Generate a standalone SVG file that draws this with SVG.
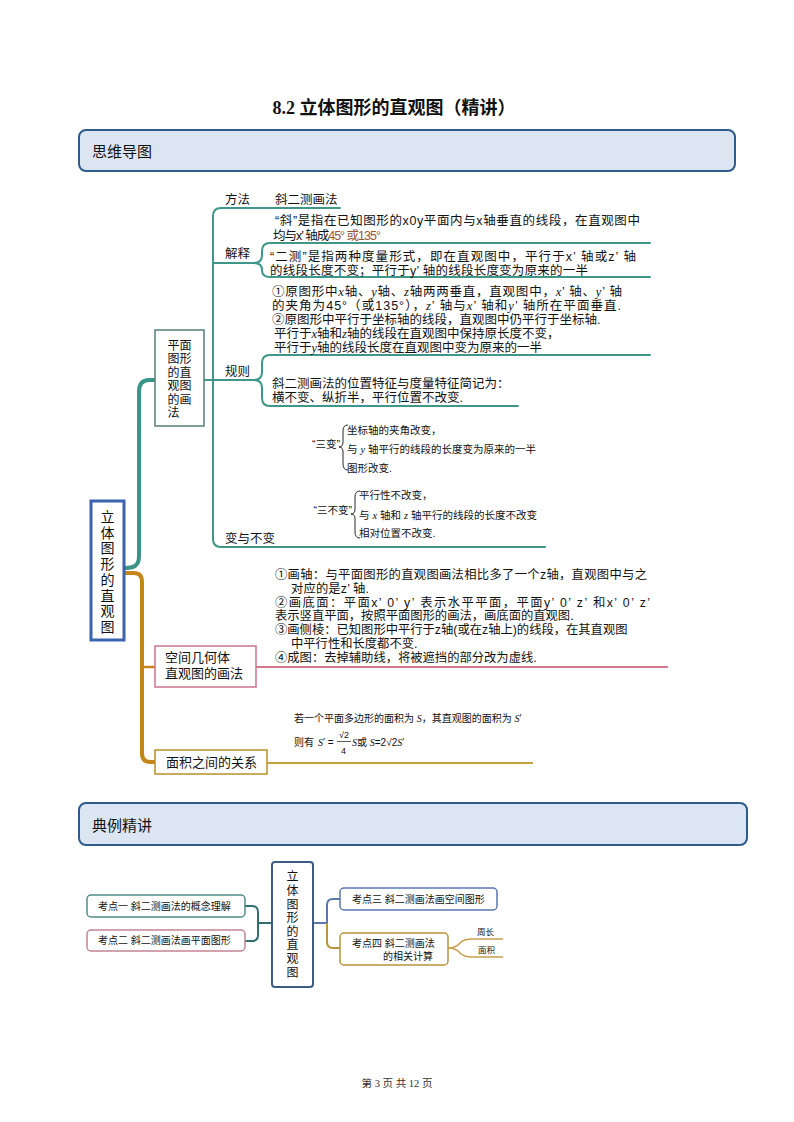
<svg xmlns="http://www.w3.org/2000/svg" width="794" height="1122" viewBox="0 0 794 1122">
<style>
.cn{font-family:"Liberation Sans","Noto Sans CJK SC",sans-serif;fill:#111}
.m{font-size:12.5px}
.m2{font-size:12.3px}
.sm{font-size:10.5px}
.xs{font-size:10px}
.it{font-family:"Liberation Serif",serif;font-style:italic}
.hdr{fill:#dce6f2;stroke:#2e5b8a;stroke-width:2}
.tl{fill:none;stroke:#3f978b;stroke-width:2;stroke-linecap:round}
.br{fill:none;stroke:#111;stroke-width:0.9}
.box{fill:#fff}
</style>
<rect width="794" height="1122" fill="#fff"/>
<text x="394" y="114" text-anchor="middle" font-family="'Liberation Serif','Noto Sans CJK SC',serif" font-weight="bold" font-size="18" fill="#111">8.2 立体图形的直观图（精讲）</text>

<g id="header1">
<rect x="79" y="130" width="656" height="41" rx="7" class="hdr"/>
<text x="92" y="157" class="cn" font-size="15">思维导图</text>
</g>

<g id="connectors">
<path d="M124,568 C134,568 139,566 139,556 L139,392 Q139,380 149,380 L155,380" fill="none" stroke="#3a9488" stroke-width="4"/>
<path d="M124,573 L134,573 Q142,573 142,582 L142,753 Q142,762 150,762 L155,762" fill="none" stroke="#c4861a" stroke-width="4"/>
<path d="M142,667 L155,667" fill="none" stroke="#c4861a" stroke-width="2.5"/>
<path d="M204,380 L213,380" class="tl"/>
<path d="M340,208 L221,208 Q213,208 213,216 L213,539 Q213,547 221,547 L545,547" class="tl"/>
<path d="M213,263 L254,263" class="tl"/>
<path d="M254,263 Q262,263 262,255 L262,251 Q262,243 270,243 L650,243" class="tl"/>
<path d="M254,263 Q262,263 262,270 Q262,277 270,277 L650,277" class="tl"/>
<path d="M213,380 L254,380" class="tl"/>
<path d="M254,380 Q262,380 262,372 L262,363 Q262,355 270,355 L650,355" class="tl"/>
<path d="M254,380 Q262,380 262,388 L262,398 Q262,406 270,406 L518,406" class="tl"/>
<path d="M348,425 Q343,425 343,431 L343,442 Q343,447 339,447 Q343,447 343,452 L343,464 Q343,470 348,470" class="br"/>
<path d="M360,491 Q355,491 355,497 L355,509 Q355,514 351,514 Q355,514 355,519 L355,532 Q355,538 360,538" class="br"/>
<path d="M256,667 L668,667" fill="none" stroke="#c8486a" stroke-width="1.5"/>
<path d="M267,763 L533,763" fill="none" stroke="#c8a040" stroke-width="1.8"/>
<path d="M245,906 L252,906 Q258,906 258,912 L258,935 Q258,941 252,941 L245,941 M258,923 L272,923" fill="none" stroke="#2f6f70" stroke-width="2"/>
<path d="M313,923 L327,923 L327,905 Q327,899 333,899 L340,899" fill="none" stroke="#5a78a8" stroke-width="2"/>
<path d="M327,923 L327,942 Q327,948 333,948 L340,948" fill="none" stroke="#b8943a" stroke-width="2"/>
<path d="M448,948 Q456,948 460,943 Q464,939 472,939 L503,939 M448,948 Q456,948 460,953 Q464,957 472,957 L503,957" fill="none" stroke="#c8a050" stroke-width="1.5"/>
</g>

<g id="root">
<rect x="91" y="501" width="33" height="139" class="box" stroke="#3b63b0" stroke-width="3"/>
<text x="107.5" y="522" class="cn" font-size="14" text-anchor="middle">立</text>
<text x="107.5" y="537.7" class="cn" font-size="14" text-anchor="middle">体</text>
<text x="107.5" y="553.4" class="cn" font-size="14" text-anchor="middle">图</text>
<text x="107.5" y="569.1" class="cn" font-size="14" text-anchor="middle">形</text>
<text x="107.5" y="584.8" class="cn" font-size="14" text-anchor="middle">的</text>
<text x="107.5" y="600.5" class="cn" font-size="14" text-anchor="middle">直</text>
<text x="107.5" y="616.2" class="cn" font-size="14" text-anchor="middle">观</text>
<text x="107.5" y="631.9" class="cn" font-size="14" text-anchor="middle">图</text>
</g>

<g id="plane">
<rect x="155" y="330" width="49" height="96" class="box" stroke="#5a7f7a" stroke-width="1.5"/>
<text x="179.5" y="349.5" class="cn" font-size="12" text-anchor="middle">平面</text>
<text x="179.5" y="363" class="cn" font-size="12" text-anchor="middle">图形</text>
<text x="179.5" y="376.5" class="cn" font-size="12" text-anchor="middle">的直</text>
<text x="179.5" y="390" class="cn" font-size="12" text-anchor="middle">观图</text>
<text x="179.5" y="403.5" class="cn" font-size="12" text-anchor="middle">的画</text>
<text x="173.5" y="417" class="cn" font-size="12" text-anchor="middle">法</text>
</g>

<g id="method">
<text x="225" y="204" class="cn m">方法</text>
<text x="275" y="204" class="cn m">斜二测画法</text>
</g>

<g id="explain">
<text x="225" y="258" class="cn m">解释</text>
<text x="275" y="225" class="cn m" textLength="365" lengthAdjust="spacing">“斜”是指在已知图形的x0y平面内与x轴垂直的线段，在直观图中</text>
<text x="273" y="240" class="cn m" textLength="108" lengthAdjust="spacing">均与x’ 轴成<tspan fill="#a0522d">45° 或135°</tspan></text>
<text x="270" y="261" class="cn m" textLength="366" lengthAdjust="spacing">“二测”是指两种度量形式，即在直观图中，平行于x’ 轴或z’ 轴</text>
<text x="270" y="275" class="cn m" textLength="318" lengthAdjust="spacing">的线段长度不变；平行于y’ 轴的线段长度变为原来的一半</text>
</g>

<g id="rules">
<text x="225" y="376" class="cn m">规则</text>
<text x="272" y="296" class="cn m" textLength="350" lengthAdjust="spacing">①原图形中<tspan class="it">x</tspan>轴、<tspan class="it">y</tspan>轴、<tspan class="it">z</tspan>轴两两垂直，直观图中，<tspan class="it">x</tspan>’ 轴、<tspan class="it">y</tspan>’ 轴</text>
<text x="272" y="310" class="cn m" textLength="349" lengthAdjust="spacing">的夹角为45°（或135°），<tspan class="it">z</tspan>’ 轴与<tspan class="it">x</tspan>’ 轴和<tspan class="it">y</tspan>’ 轴所在平面垂直.</text>
<text x="272" y="324" class="cn m">②原图形中平行于坐标轴的线段，直观图中仍平行于坐标轴.</text>
<text x="274" y="338" class="cn m">平行于<tspan class="it">x</tspan>轴和<tspan class="it">z</tspan>轴的线段在直观图中保持原长度不变，</text>
<text x="274" y="352" class="cn m">平行于<tspan class="it">y</tspan>轴的线段长度在直观图中变为原来的一半</text>
<text x="272" y="388" class="cn m">斜二测画法的位置特征与度量特征简记为：</text>
<text x="272" y="402" class="cn m">横不变、纵折半，平行位置不改变.</text>
</g>

<g id="change">
<text x="225" y="543" class="cn m">变与不变</text>
<text x="340" y="448" class="cn sm" text-anchor="end">“三变”</text>
<text x="347" y="434" class="cn sm">坐标轴的夹角改变，</text>
<text x="347" y="453" class="cn sm">与 <tspan class="it">y</tspan> 轴平行的线段的长度变为原来的一半</text>
<text x="347" y="472" class="cn sm">图形改变.</text>
<text x="352" y="514" class="cn sm" text-anchor="end">“三不变”</text>
<text x="359" y="499" class="cn sm">平行性不改变，</text>
<text x="359" y="519" class="cn sm">与 <tspan class="it">x</tspan> 轴和 <tspan class="it">z</tspan> 轴平行的线段的长度不改变</text>
<text x="359" y="537" class="cn sm">相对位置不改变.</text>
</g>

<g id="solid">
<rect x="155" y="646" width="101" height="41" class="box" stroke="#c9768c" stroke-width="1.5"/>
<text x="165" y="662" class="cn" font-size="13">空间几何体</text>
<text x="165" y="678" class="cn" font-size="13">直观图的画法</text>
<text x="275" y="579" class="cn m2" textLength="372" lengthAdjust="spacing">①画轴：与平面图形的直观图画法相比多了一个z轴，直观图中与之</text>
<text x="291" y="592.8" class="cn m2" textLength="78" lengthAdjust="spacing">对应的是z’ 轴.</text>
<text x="275" y="606.6" class="cn m2" textLength="375" lengthAdjust="spacing">②画底面：平面x’ 0’ y’ 表示水平平面，平面y’ 0’ z’ 和x’ 0’ z’</text>
<text x="275" y="620.4" class="cn m2">表示竖直平面，按照平面图形的画法，画底面的直观图.</text>
<text x="275" y="634.2" class="cn m2">③画侧棱：已知图形中平行于z轴(或在z轴上)的线段，在其直观图</text>
<text x="291" y="648" class="cn m2">中平行性和长度都不变.</text>
<text x="275" y="661.8" class="cn m2">④成图：去掉辅助线，将被遮挡的部分改为虚线.</text>
</g>

<g id="area">
<rect x="155" y="750" width="112" height="24" class="box" stroke="#b8902a" stroke-width="1.5"/>
<text x="166" y="767" class="cn" font-size="13">面积之间的关系</text>
<text x="294" y="722" class="cn xs">若一个平面多边形的面积为 <tspan class="it">S</tspan>，其直观图的面积为 <tspan class="it">S</tspan>′</text>
<text x="294" y="746" class="cn xs">则有</text>
<text x="318" y="746" class="cn xs"><tspan class="it">S</tspan>′ =</text>
<text x="339" y="738" class="cn" font-size="9">√2</text>
<line x1="337" y1="741.5" x2="351" y2="741.5" stroke="#111" stroke-width="0.7"/>
<text x="341" y="754" class="cn" font-size="9">4</text>
<text x="352" y="746" class="cn xs"><tspan class="it">S</tspan>或 <tspan class="it">S</tspan>=2√2<tspan class="it">S</tspan>′</text>
</g>

<g id="header2">
<rect x="79" y="803" width="668" height="42" rx="7" class="hdr"/>
<text x="92" y="831" class="cn" font-size="15">典例精讲</text>
</g>

<g id="center2">
<rect x="272" y="862" width="41" height="125" rx="3" class="box" stroke="#3d5b85" stroke-width="2"/>
<text x="292.5" y="881.3" class="cn" font-size="12" text-anchor="middle">立</text>
<text x="292.5" y="894.9" class="cn" font-size="12" text-anchor="middle">体</text>
<text x="292.5" y="908.5" class="cn" font-size="12" text-anchor="middle">图</text>
<text x="292.5" y="922.1" class="cn" font-size="12" text-anchor="middle">形</text>
<text x="292.5" y="935.7" class="cn" font-size="12" text-anchor="middle">的</text>
<text x="292.5" y="949.3" class="cn" font-size="12" text-anchor="middle">直</text>
<text x="292.5" y="962.9" class="cn" font-size="12" text-anchor="middle">观</text>
<text x="292.5" y="976.5" class="cn" font-size="12" text-anchor="middle">图</text>
</g>

<g id="k1">
<rect x="87" y="895" width="158" height="22" rx="4" class="box" stroke="#4f8f86" stroke-width="1.5"/>
<text x="98" y="909.5" class="cn xs">考点一  斜二测画法的概念理解</text>
</g>
<g id="k2">
<rect x="87" y="930" width="158" height="21" rx="4" class="box" stroke="#c58592" stroke-width="1.5"/>
<text x="98" y="944" class="cn xs">考点二  斜二测画法画平面图形</text>
</g>
<g id="k3">
<rect x="340" y="888" width="157" height="22" rx="4" class="box" stroke="#5a78b0" stroke-width="1.5"/>
<text x="352" y="902.5" class="cn xs">考点三  斜二测画法画空间图形</text>
</g>
<g id="k4">
<rect x="340" y="933" width="108" height="32" rx="4" class="box" stroke="#b8943a" stroke-width="1.5"/>
<text x="352" y="946.5" class="cn xs">考点四  斜二测画法</text>
<text x="383" y="959.5" class="cn xs">的相关计算</text>
</g>
<g id="k4leaves">
<text x="477" y="935" class="cn" font-size="8.5" fill="#444">周长</text>
<text x="478" y="953" class="cn" font-size="8.5" fill="#444">面积</text>
</g>

<text x="397" y="1087" text-anchor="middle" font-family="'Liberation Serif','Noto Sans CJK SC',serif" font-size="10.5" fill="#333">第 3 页 共 12 页</text>
</svg>
